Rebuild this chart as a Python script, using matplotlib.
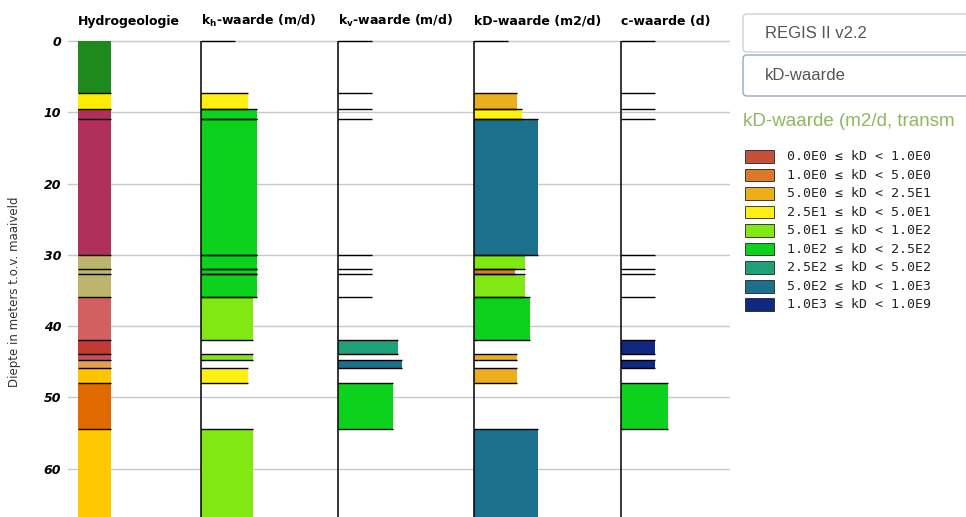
import matplotlib
matplotlib.use("Agg")
import matplotlib.pyplot as plt
from matplotlib.patches import FancyBboxPatch, Rectangle

# laaggrenzen (m t.o.v. maaiveld)
laag_top = [0, 7.25, 9.6, 11.0, 30.0, 32.0, 32.7, 35.9, 41.9, 43.9, 44.75, 45.8, 47.9, 54.4]
laag_bodem = laag_top[1:] + [70.0]

# hydrogeologische eenheden (kleur per laag)
hydro_kleur = ['#1e8a1e', '#ffec00', '#b0305c', '#b0305c', '#bdb56c', '#bdb56c', '#bdb56c',
               '#d26060', '#c23a30', '#c85050', '#e0a050', '#ffc400', '#e06a00', '#ffc800']

# klassen (index in legenda) en staaflengte per laag, None = geen waarde
kh_klasse = [None, 3, 5, 5, 5, 5, 5, 4, None, 4, None, 3, None, 4]
kh_lengte = [None, 47, 56, 56, 56, 56, 56, 52, None, 52, None, 47, None, 52]
kv_klasse = [None] * 8 + [6, None, 7, None, 5, None]
kv_lengte = [None] * 8 + [60, None, 64, None, 55, None]
kd_klasse = [None, 2, 3, 7, 4, 1, 4, 5, None, 2, None, 2, None, 7]
kd_lengte = [None, 43, 47.5, 64, 51, 41, 51, 56, None, 43, None, 43, None, 64]
c_klasse = [None] * 8 + [8, None, 8, None, 5, None]
c_lengte = [None] * 8 + [34, None, 34, None, 47, None]

# legenda kD-waarde
grenzen = ['0.0E0', '1.0E0', '5.0E0', '2.5E1', '5.0E1', '1.0E2', '2.5E2', '5.0E2', '1.0E3', '1.0E9']
klasse_kleur = ['#c4503a', '#dc7828', '#ebaf1e', '#fff014', '#82e814', '#0cd21e',
                '#1ea078', '#1c708c', '#102880']

titels = ['Hydrogeologie', r'k$_\mathbf{h}$-waarde (m/d)', r'k$_\mathbf{v}$-waarde (m/d)',
          'kD-waarde (m2/d)', 'c-waarde (d)']
diepte_ticks = [0, 10, 20, 30, 40, 50, 60]

W, H = 966, 517
fig = plt.figure(figsize=(W / 100, H / 100), dpi=100)
ax = fig.add_axes([68 / W, 0, (730 - 68) / W, (517 - 37) / H])
ax.set_xlim(0, 662)
ax.set_ylim(66.76, -0.56)
for s in ax.spines.values():
    s.set_visible(False)
ax.set_xticks([])
ax.set_yticks(diepte_ticks, [str(t) for t in diepte_ticks], fontsize=9,
              fontweight='bold', fontstyle='italic')
ax.tick_params(axis='y', length=0, pad=5)
ax.yaxis.grid(True, color='#c8c8c8', lw=1)
ax.set_axisbelow(True)

# kolom hydrogeologie
x_hydro = 10
dikte = [b - t for t, b in zip(laag_top, laag_bodem)]
midden = [(t + b) / 2 for t, b in zip(laag_top, laag_bodem)]
ax.barh(midden, 33, left=x_hydro, height=dikte, color=hydro_kleur, zorder=2)
ax.hlines(laag_top[1:], x_hydro, x_hydro + 33, color='black', lw=1, zorder=3)

# parameterkolommen
leeg = 34
kolommen = [(133, kh_klasse, kh_lengte), (270, kv_klasse, kv_lengte),
            (406, kd_klasse, kd_lengte), (553, c_klasse, c_lengte)]
for x0, klassen, lengtes in kolommen:
    ax.vlines(x0, 0, 70, color='black', lw=1.1, zorder=3)
    for i, (k, l) in enumerate(zip(klassen, lengtes)):
        t, b = laag_top[i], laag_bodem[i]
        if k is not None:
            ax.barh((t + b) / 2, l, left=x0, height=b - t, color=klasse_kleur[k], zorder=2)
            ax.hlines([t, b], x0, x0 + l, color='black', lw=1, zorder=3)
        elif i == 0 or klassen[i - 1] is None:
            ax.hlines(t, x0, x0 + leeg, color='black', lw=1, zorder=3)

for x0, titel in zip([x_hydro, 133, 270, 406, 553], titels):
    ax.text(x0, -2.8, titel, fontsize=9, fontweight='bold', va='center', ha='left',
            clip_on=False)

fig.text(15 / W, 1 - 292 / H, 'Diepte in meters t.o.v. maaiveld', rotation=90,
         fontsize=8.5, color='#333333', ha='center', va='center')

# rechterpaneel
ui = fig.add_axes([0, 0, 1, 1])
ui.set_xlim(0, W)
ui.set_ylim(H, 0)
ui.axis('off')
ui.add_patch(FancyBboxPatch((743, 14), 260, 38, boxstyle='round,pad=0,rounding_size=4',
                            fc='white', ec='#d0d0d0', lw=1))
ui.add_patch(FancyBboxPatch((743, 55), 260, 41, boxstyle='round,pad=0,rounding_size=4',
                            fc='white', ec='#93aac4', lw=1))
ui.text(765, 33, 'REGIS II v2.2', family='Liberation Sans', fontsize=12, color='#555555',
        va='center')
ui.text(765, 76, 'kD-waarde', family='Liberation Sans', fontsize=12, color='#555555',
        va='center')
ui.text(743, 122, 'kD-waarde (m2/d, transm', family='Liberation Sans',
        fontsize=13.5, color='#8cb95c', va='center')
for i, kleur in enumerate(klasse_kleur):
    yc = 156.7 + i * 18.5
    ui.add_patch(Rectangle((745, yc - 6.3), 29, 12.6, fc=kleur, ec='#222222', lw=0.6))
    ui.text(787, yc, f'{grenzen[i]} \u2264 kD < {grenzen[i + 1]}', family='DejaVu Sans Mono',
            fontsize=9.5, color='#222222', va='center')

fig.savefig('out.png', dpi=100)
